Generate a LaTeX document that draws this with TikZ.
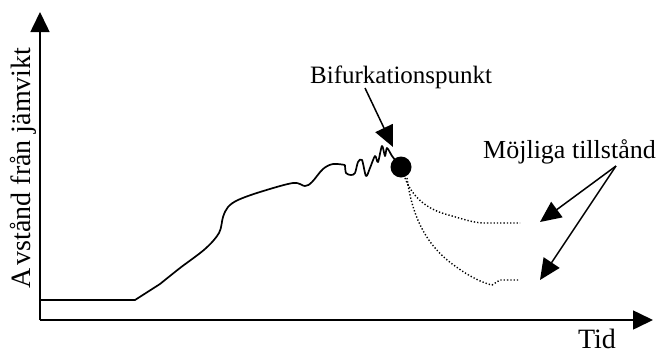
\documentclass[tikz,border=0pt]{standalone}
\usepackage{fontspec}
\setmainfont{Liberation Serif}
\usetikzlibrary{arrows.meta}
\begin{document}
\begin{tikzpicture}[x=1pt,y=-1pt,
  axis/.style={line width=1.6pt,-{Triangle[length=20pt,width=19pt]}},
  pointer/.style={line width=1.5pt,-{Triangle[length=21pt,width=19pt]}},
  curve/.style={line width=1.7pt,line join=round},
  branch/.style={line width=1.4pt,dash pattern=on 1.3pt off 2pt},
  label/.style={inner sep=0pt,font=\fontsize{26}{30}\selectfont}]
\useasboundingbox (0,0) rectangle (659,354);

% axes
\coordinate (o) at (40,320);
\coordinate (ytop) at (40,12);
\coordinate (xend) at (653,320);
\draw[axis] (o) -- (ytop);
\draw[axis] (o) -- (xend);

% axis labels
\node[label,rotate=90,font=\fontsize{28}{30}\selectfont] (ylab) at (23,168) {A\kern3pt vstånd från jämvikt};
\node[label,anchor=base,font=\fontsize{28}{30}\selectfont] (xlab) at (597,348) {Tid};

% the system's path away from equilibrium
\draw[curve] (40,300) -- (135,300) -- (160,284)
  plot[smooth,tension=0.55] coordinates {(160,284) (180,268) (205,249) (219,233) (223,217) (228,207) (238,200)
   (260,192) (293,183) (305,186) (312,182) (323,169) (333,164) (345,165)}
  plot[smooth,tension=0.5] coordinates {(345,165) (346,173) (351,175) (355,173) (358,162) (362,160)
   (366,176) (370,168) (375,156) (378,162) (382,146) (385,156) (387,148) (392,156) (396,161)};

% bifurcation point
\node[circle,fill=black,minimum size=21pt,inner sep=0pt] (bif) at (401,167) {};

% possible branches
\draw[branch] (405,178) .. controls (412,196) and (425,208) .. (445,214)
  .. controls (460,218) and (470,222) .. (482,223) -- (520,223);
\draw[branch] (407,178) .. controls (412,215) and (425,245) .. (455,266)
  .. controls (470,277) and (483,283) .. (492,285) -- (500,280) -- (518,280);

% labels with pointers
\node[label,anchor=base west,font=\fontsize{25}{30}\selectfont] (biflab) at (310,83) {Bifurkationspunkt};
\coordinate (biftip) at (393,147);
\draw[pointer] (365,88) -- (biftip);

\node[label,anchor=base] (states) at (569.5,158) {Möjliga tillstånd};
\coordinate (split) at (616,166);
\coordinate (tipA) at (540,222);
\coordinate (tipB) at (540,280);
\draw[pointer] (split) -- (tipA);
\draw[pointer] (split) -- (tipB);
\end{tikzpicture}
\end{document}
